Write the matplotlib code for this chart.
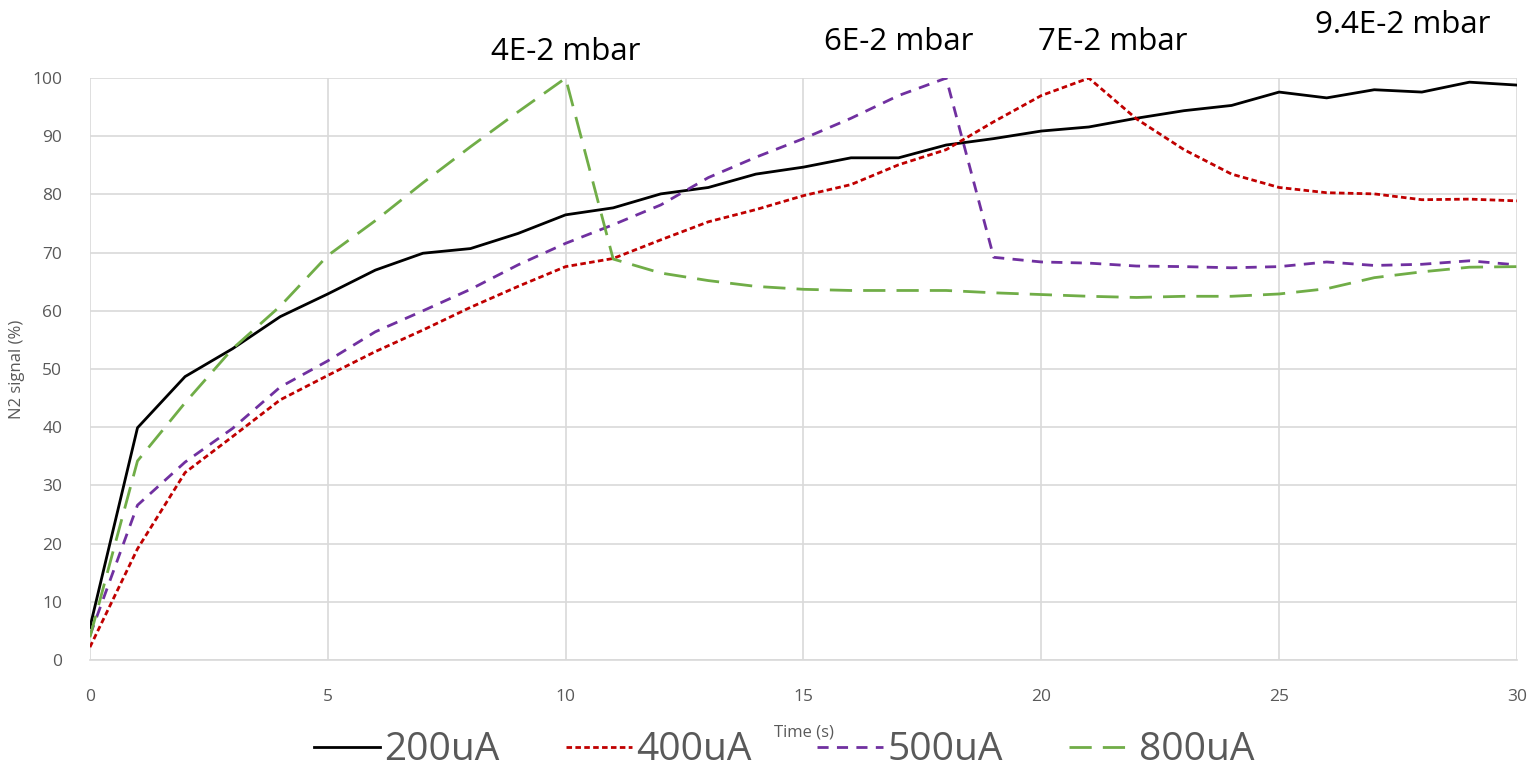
import numpy as np
import matplotlib.pyplot as plt

# время, с
t = list(range(31))

# N2 signal (%) для разных токов
s200 = [5.6, 39.9, 48.7, 53.5, 59.0, 62.9, 67.0, 69.9, 70.7, 73.3, 76.5,
        77.7, 80.1, 81.2, 83.5, 84.7, 86.3, 86.3, 88.5, 89.6, 90.9,
        91.6, 93.1, 94.4, 95.3, 97.6, 96.6, 98.0, 97.6, 99.3, 98.8]
s400 = [2.2, 19.1, 32.2, 38.4, 44.7, 48.9, 53.0, 56.7, 60.6, 64.2, 67.6,
        69.0, 72.2, 75.3, 77.4, 79.8, 81.7, 85.1, 87.7, 92.5, 97.0,
        100.0, 93.0, 87.7, 83.5, 81.2, 80.3, 80.1, 79.1, 79.2, 78.9]
s500 = [4.2, 26.6, 34.0, 39.8, 46.9, 51.4, 56.4, 60.0, 63.7, 67.9, 71.6,
        74.8, 78.2, 82.9, 86.4, 89.6, 93.1, 97.0, 100.0, 69.2, 68.4,
        68.2, 67.7, 67.6, 67.4, 67.6, 68.4, 67.8, 68.0, 68.6, 67.9]
s800 = [3.9, 34.2, 44.2, 53.5, 60.8, 69.5, 75.5, 82.0, 88.2, 94.2, 100.0,
        68.9, 66.5, 65.2, 64.2, 63.7, 63.5, 63.5, 63.5, 63.1, 62.8,
        62.5, 62.3, 62.5, 62.5, 62.9, 63.8, 65.7, 66.7, 67.5, 67.6]

labels = ['200uA', '400uA', '500uA', '800uA']

# подписи давления
ann_text = ['4E-2 mbar', '6E-2 mbar', '7E-2 mbar', '9.4E-2 mbar']
ann_x = [10, 17, 21.5, 27.6]
ann_y = [104.5, 106.2, 106.2, 109.2]

plt.rcParams['font.family'] = ['Open Sans', 'DejaVu Sans']

fig = plt.figure(figsize=(15.32, 7.81), dpi=100)
ax = fig.add_axes([0.0587, 0.155, 0.9315, 0.745])

ax.plot(t, s200, color='black', lw=2.0, label=labels[0])
ax.plot(t, s400, color='#C00000', lw=2.0, dashes=(2, 1.2), label=labels[1])
ax.plot(t, s500, color='#7030A0', lw=2.0, dashes=(4, 3), label=labels[2])
ax.plot(t, s800, color='#70AD47', lw=2.0, dashes=(8, 4), label=labels[3])

ax.set_xlim(0, 30)
ax.set_ylim(0, 100)
ax.set_xticks(range(0, 31, 5))
ax.set_yticks(range(0, 101, 10))
ax.grid(True, color='#D9D9D9', lw=1.2)
ax.set_axisbelow(True)
for sp in ['top', 'right', 'left']:
    ax.spines[sp].set_visible(False)
ax.spines['bottom'].set_color('#D9D9D9')
ax.spines['bottom'].set_linewidth(1.2)
ax.tick_params(axis='x', length=0, labelsize=12.5, colors='#595959', pad=21)
ax.tick_params(axis='y', length=0, labelsize=12.5, colors='#595959', pad=20)

ax.set_xlabel('Time (s)', fontsize=12, color='#595959', labelpad=14)
ax.set_ylabel('N2 signal (%)', fontsize=12, color='#595959', labelpad=5)

for txt, x, y in zip(ann_text, ann_x, ann_y):
    ax.text(x, y, txt, fontsize=22.5, ha='center', va='center', clip_on=False)

leg = fig.legend(loc='lower center', bbox_to_anchor=(0.512, -0.03), ncol=4,
                 frameon=False, fontsize=28, handlelength=1.7,
                 handletextpad=0.1, columnspacing=1.7, labelcolor='#595959')

fig.savefig('out.png', dpi=100)
